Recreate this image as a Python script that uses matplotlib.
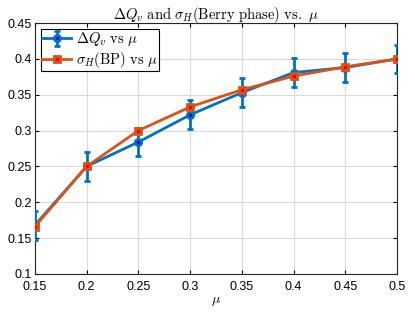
import matplotlib.pyplot as plt

plt.rcParams['font.family'] = ['Liberation Sans', 'DejaVu Sans']
plt.rcParams['mathtext.fontset'] = 'cm'

# data
mu = [0.15, 0.2, 0.25, 0.3, 0.35, 0.4, 0.45, 0.5]
dQv = [0.168, 0.250, 0.284, 0.322, 0.353, 0.381, 0.388, 0.400]
dQv_err = [0.020, 0.020, 0.020, 0.020, 0.020, 0.020, 0.020, 0.020]
sigmaH = [0.166, 0.250, 0.300, 0.333, 0.357, 0.376, 0.389, 0.400]

blue = '#0072BD'
orange = '#D95319'

fig = plt.figure(figsize=(4.15, 3.12), dpi=100)
ax = fig.add_axes([0.084, 0.122, 0.873, 0.804])

h1 = ax.errorbar(mu, dQv, yerr=dQv_err, color=blue, linewidth=2, elinewidth=2,
                 capsize=2, capthick=2, marker='o', markersize=4.5,
                 markerfacecolor='blue', markeredgecolor=blue, markeredgewidth=2,
                 label=r'$\Delta Q_v\ \mathrm{vs}\ \mu$', zorder=3)
h2, = ax.plot(mu, sigmaH, color=orange, linewidth=2, marker='s', markersize=5,
              markerfacecolor='red', markeredgecolor=orange, markeredgewidth=2,
              label=r'$\sigma_H(\mathrm{BP})\ \mathrm{vs}\ \mu$', zorder=4)

ax.set_xlim(0.15, 0.5)
ax.set_ylim(0.1, 0.45)
ax.set_xticks(mu)
ax.set_xticklabels([f'{v:g}' for v in mu])
yt = [0.1, 0.15, 0.2, 0.25, 0.3, 0.35, 0.4, 0.45]
ax.set_yticks(yt)
ax.set_yticklabels([f'{v:g}' for v in yt])
ax.tick_params(direction='in', labelsize=9, length=3, top=True, right=True)
ax.tick_params(axis='x', pad=5)
ax.tick_params(axis='y', pad=2)
ax.grid(True, color='#d9d9d9', linewidth=0.8)
ax.set_axisbelow(True)
for s in ax.spines.values():
    s.set_linewidth(0.8)
    s.set_color('#262626')

ax.set_xlabel(r'$\mu$', fontsize=10, labelpad=1)
ax.set_title(r'$\Delta Q_v\ \mathrm{and}\ \sigma_H\mathrm{(Berry\ phase)\ vs.}\ \mu$',
             fontsize=10.5, pad=3)

leg = ax.legend([h1, h2], [h1.get_label(), h2.get_label()], loc='upper left',
                fontsize=10.5, fancybox=False, framealpha=1,
                edgecolor='black', borderaxespad=0.4, handlelength=2,
                borderpad=0.1, labelspacing=0.1, handletextpad=0.3)
leg.get_frame().set_linewidth(0.8)

fig.savefig('out.png', dpi=100)
